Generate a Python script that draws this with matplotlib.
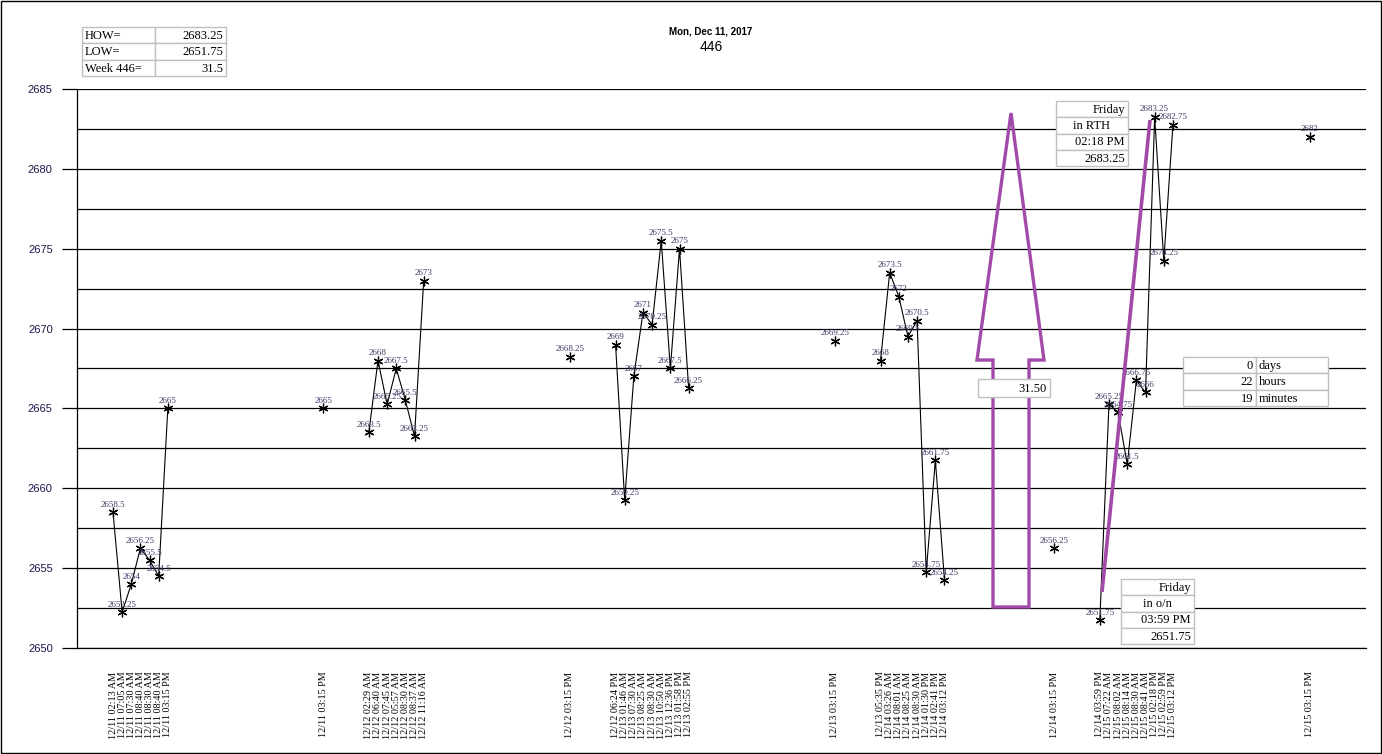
import numpy as np
import pandas as pd
import matplotlib
matplotlib.use("Agg")
import matplotlib.pyplot as plt
from matplotlib.patches import Rectangle, Polygon
from matplotlib.ticker import MultipleLocator

# Week 446 price points, grouped by session (time label, price)
s1_times = ["12/11 02:13 AM", "12/11 07:05 AM", "12/11 07:30 AM", "12/11 08:40 AM",
            "12/11 08:30 AM", "12/11 08:40 AM", "12/11 03:15 PM"]
s1_prices = [2658.5, 2652.25, 2654, 2656.25, 2655.5, 2654.5, 2665]

s2_times = ["12/12 02:29 AM", "12/12 06:40 AM", "12/12 07:45 AM", "12/12 05:57 AM",
            "12/12 08:30 AM", "12/12 08:37 AM", "12/12 11:16 AM"]
s2_prices = [2663.5, 2668, 2665.25, 2667.5, 2665.5, 2663.25, 2673]

s3_times = ["12/12 06:24 PM", "12/13 01:46 AM", "12/13 07:30 AM", "12/13 08:25 AM",
            "12/13 08:30 AM", "12/13 10:50 AM", "12/13 12:36 PM", "12/13 01:58 PM",
            "12/13 02:55 PM"]
s3_prices = [2669, 2659.25, 2667, 2671, 2670.25, 2675.5, 2667.5, 2675, 2666.25]

s4_times = ["12/13 05:35 PM", "12/14 03:26 AM", "12/14 08:01 AM", "12/14 08:25 AM",
            "12/14 08:30 AM", "12/14 01:30 PM", "12/14 02:41 PM", "12/14 03:12 PM"]
s4_prices = [2668, 2673.5, 2672, 2669.5, 2670.5, 2654.75, 2661.75, 2654.25]

s5_times = ["12/14 03:59 PM", "12/15 07:22 AM", "12/15 08:02 AM", "12/15 08:14 AM",
            "12/15 08:30 AM", "12/15 08:41 AM", "12/15 02:18 PM", "12/15 02:59 PM",
            "12/15 03:12 PM"]
s5_prices = [2651.75, 2665.25, 2664.75, 2661.5, 2666.75, 2666, 2683.25, 2674.25, 2682.75]

close_times = ["12/11 03:15 PM", "12/12 03:15 PM", "12/13 03:15 PM",
               "12/14 03:15 PM", "12/15 03:15 PM"]
close_prices = [2665, 2668.25, 2669.25, 2656.25, 2682]

# blank categories in the source sheet, in order
blank_runs = [16, 4, 15, 4, 15, 4, 11, 4, 14]

week_no = 446
title_date = "Mon, Dec 11, 2017"

# build the category axis (blank rows -> empty label, NaN value)
sessions = [(s1_times, s1_prices), (s2_times, s2_prices), (s3_times, s3_prices),
            (s4_times, s4_prices), (s5_times, s5_prices)]
pieces = []
for i, (t, p) in enumerate(sessions):
    pieces.append((t, p))
    pieces.append((None, blank_runs[2 * i]))
    pieces.append(([close_times[i]], [close_prices[i]]))
    if i < len(sessions) - 1:
        pieces.append((None, blank_runs[2 * i + 1]))

labels, values = [], []
for t, p in pieces:
    if t is None:
        labels += [""] * p
        values += [np.nan] * p
    else:
        labels += t
        values += p
values = np.array(values, dtype=float)
xs = np.arange(len(values))

hi = np.nanmax(values)
lo = np.nanmin(values)
all_times = s1_times + s2_times + s3_times + s4_times + s5_times
all_prices = s1_prices + s2_prices + s3_prices + s4_prices + s5_prices
t_hi = pd.to_datetime("2017/" + all_times[all_prices.index(hi)], format="%Y/%m/%d %I:%M %p")
t_lo = pd.to_datetime("2017/" + all_times[all_prices.index(lo)], format="%Y/%m/%d %I:%M %p")
span = t_hi - t_lo
span_days = span.days
span_hours = span.seconds // 3600
span_minutes = (span.seconds % 3600) // 60

W, H = 1382, 754
fig = plt.figure(figsize=(W / 100, H / 100), dpi=100)
ax = fig.add_axes([77 / W, 1 - 648 / H, 1289 / W, 559 / H])

ax.plot(xs, values, color="black", lw=0.8, marker=(6, 2, 0), ms=7, mew=0.9,
        mfc="black", mec="black", zorder=3)
for x, v in zip(xs, values):
    if np.isnan(v):
        continue
    ax.annotate(f"{v:g}", (x, v), xytext=(0, 2.5), textcoords="offset points",
                ha="center", va="bottom", fontsize=6.5, family="Liberation Serif",
                color="#3a3a66", zorder=4)

ax.set_ylim(2650, 2685)
ax.set_xlim(-3.94, 137.13)
ax.yaxis.set_major_locator(MultipleLocator(5))
ax.yaxis.set_minor_locator(MultipleLocator(2.5))
ax.grid(True, which="both", axis="y", color="black", lw=0.9)
ax.set_axisbelow(True)
ax.tick_params(axis="y", which="major", length=11, width=0.9, pad=6.5,
               labelsize=8, labelcolor="#1a1a4a")
ax.tick_params(axis="y", which="minor", length=0)
for lab in ax.get_yticklabels():
    lab.set_family("Liberation Sans")

tick_pos = [x for x, l in zip(xs, labels) if l]
tick_lab = [l for l in labels if l]
ax.set_xticks(tick_pos)
ax.set_xticklabels(tick_lab, rotation=90, fontsize=7.3, family="Liberation Serif")
ax.tick_params(axis="x", length=0, pad=17)

for s in ["top", "right"]:
    ax.spines[s].set_visible(False)
ax.spines["left"].set_linewidth(0.9)
ax.spines["bottom"].set_linewidth(0.9)

# overlay in pixel coordinates for tables and shapes
ov = fig.add_axes([0, 0, 1, 1])
ov.set_xlim(0, W)
ov.set_ylim(H, 0)
ov.axis("off")


def cell_table(x0, y0, col_w, row_h, rows, aligns):
    for r, row in enumerate(rows):
        x = x0
        for c, txt in enumerate(row):
            w = col_w[c]
            y = y0 + r * row_h
            ov.add_patch(Rectangle((x, y), w, row_h, fc="white", ec="#c0c0c0", lw=1))
            a = aligns[r][c] if isinstance(aligns[r], (list, tuple)) else aligns[r]
            if a == "left":
                tx = x + 3
            elif a == "right":
                tx = x + w - 3
            else:
                tx = x + w / 2
            ov.text(tx, y + row_h / 2 + 0.5, txt, ha=a, va="center", fontsize=9,
                    family="Liberation Serif", color="black")
            x += w


cell_table(82, 27, [73, 71], 16.4,
           [["HOW=", f"{hi:g}"], ["LOW=", f"{lo:g}"], [f"Week {week_no}=", f"{hi - lo:g}"]],
           [("left", "right")] * 3)

cell_table(1056, 101, [72], 16.3,
           [["Friday"], ["in RTH"], [t_hi.strftime("%I:%M %p")], [f"{hi:g}"]],
           ["right", "center", "right", "right"])

cell_table(1121, 579, [73], 16.3,
           [["Friday"], ["in o/n"], [t_lo.strftime("%I:%M %p")], [f"{lo:g}"]],
           ["right", "center", "right", "right"])

cell_table(1183, 357, [73, 72], 16.4,
           [[str(span_days), "days"], [str(span_hours), "hours"], [str(span_minutes), "minutes"]],
           [("right", "left")] * 3)

purple = "#a24aa8"
arrow = Polygon([(1011, 113), (1044, 360), (1029, 360), (1029, 607), (993, 607),
                 (993, 360), (977, 360)], closed=True, fill=False, ec=purple, lw=2.4,
                joinstyle="miter")
ov.add_patch(arrow)
cell_table(978, 379, [72], 18, [[f"{hi - lo:.2f}"]], ["right"])

ov.plot([1102, 1150], [592, 120], color=purple, lw=2.6, solid_capstyle="butt")

ov.text(711, 32, title_date, ha="center", va="center", fontsize=7, weight="bold",
        family="Liberation Sans")
ov.text(711, 47, str(week_no), ha="center", va="center", fontsize=10,
        family="Liberation Sans")

ov.add_patch(Rectangle((0.5, 0.5), W - 1.5, H - 1.5, fill=False, ec="black", lw=1))

fig.savefig("out.png", dpi=100)
